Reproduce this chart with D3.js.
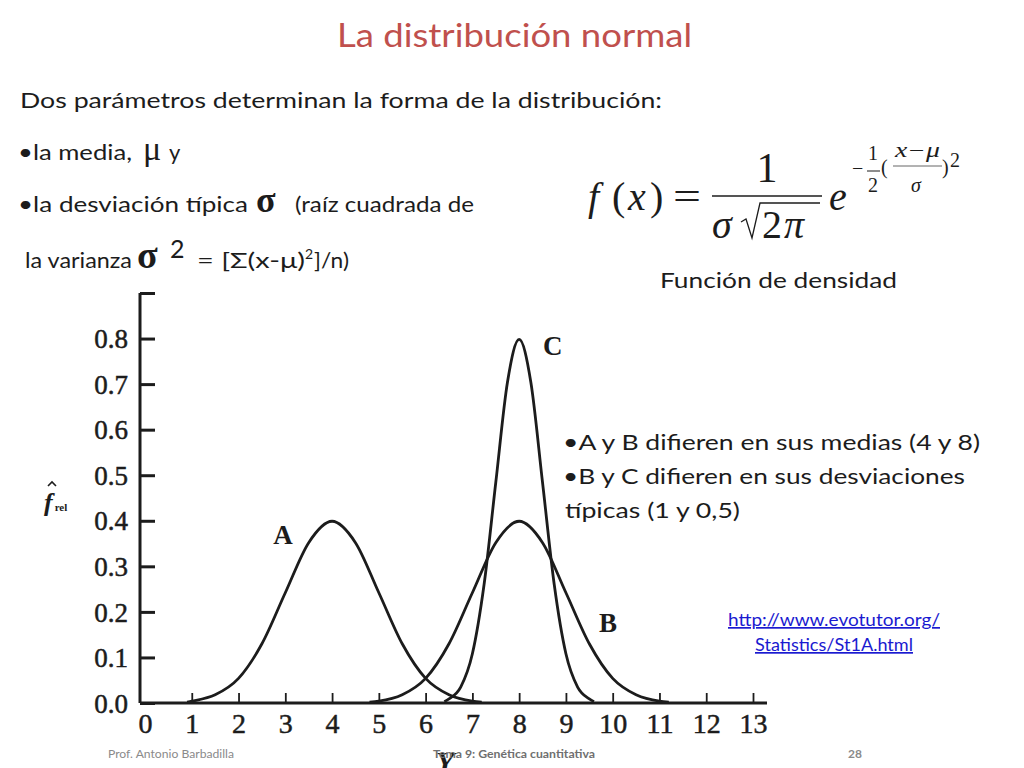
<!DOCTYPE html>
<html><head><meta charset="utf-8">
<script src="https://cdn.jsdelivr.net/npm/d3@7"></script>
<style>body{margin:0;background:#fff} svg{display:block}</style>
</head><body>
<svg id="c" width="1024" height="768"></svg>
<script>
// ---------- data ----------
const xTicks = [0,1,2,3,4,5,6,7,8,9,10,11,12,13];
const yTicks = [0,0.1,0.2,0.3,0.4,0.5,0.6,0.7,0.8,0.9];
const yTickLabels = ["0.0","0.1","0.2","0.3","0.4","0.5","0.6","0.7","0.8",""];
const curveAx = [0.9,1,1.5,2,2.5,3,3.5,4,4.5,5,5.5,6,6.5,7,7.2];
const curveAy = [0.002,0.004,0.018,0.054,0.130,0.242,0.352,0.399,0.352,0.242,0.130,0.054,0.018,0.004,0.002];
const curveBx = [4.8,5,5.5,6,6.5,7,7.5,8,8.5,9,9.5,10,10.5,11,11.2];
const curveBy = [0.002,0.004,0.018,0.054,0.130,0.242,0.352,0.399,0.352,0.242,0.130,0.054,0.018,0.004,0.002];
const curveCx = [6.4,6.5,6.75,7,7.25,7.5,7.75,8,8.25,8.5,8.75,9,9.25,9.5,9.6];
const curveCy = [0.003,0.009,0.035,0.108,0.260,0.484,0.704,0.798,0.704,0.484,0.260,0.108,0.035,0.009,0.003];
const curveNames = ["A","B","C"];
const labelX = [2.95, 9.9, 8.72];
const labelY = [0.35, 0.156, 0.764];

// ---------- setup ----------
const svg = d3.select("#c");
svg.append("rect").attr("width",1024).attr("height",768).attr("fill","#fff");
const SANS = "Lato, 'Open Sans', sans-serif";
const SERIF = "'Liberation Serif', 'DejaVu Serif', serif";
const INK = "#1c1c1c";

const x = d3.scaleLinear().domain([0,13]).range([145,753]);
const y = d3.scaleLinear().domain([0,0.9]).range([703,293]);

function t(px,py,str,o={}) {
  const e = svg.append("text").attr("x",px).attr("y",py).text(str)
    .attr("font-family",o.ff||SANS).attr("font-size",o.fs||22)
    .attr("fill",o.fill||INK);
  if (o.anchor) e.attr("text-anchor",o.anchor);
  if (o.fw) e.attr("font-weight",o.fw);
  if (o.fst) e.attr("font-style",o.fst);
  if (o.len) e.attr("textLength",o.len).attr("lengthAdjust","spacingAndGlyphs");
  if (o.deco) e.attr("text-decoration",o.deco);
  return e;
}

// ---------- title & text ----------
t(337,47,"La distribución normal",{fs:33,fill:"#c0504d",len:355});
t(20,108,"Dos parámetros determinan la forma de la distribución:",{fs:22,len:642});
t(18,160,"•la media,",{fs:22,len:114});
t(143,160,"μ",{ff:SERIF,fs:34});
t(169,160,"y",{fs:22});
t(18,212,"•la desviación típica",{fs:22,len:230});
t(256,212,"σ",{ff:SERIF,fs:36,fw:"bold"});
t(295,212,"(raíz cuadrada de",{fs:22,len:179});
t(25,268,"la varianza",{fs:22,len:107});
t(137,268,"σ",{ff:SERIF,fs:38,fw:"bold"});
t(170,258,"2",{fs:25});
t(197,268,"= [Σ(x-μ)",{fs:22,len:108});
t(305,259,"2",{fs:14});
t(314,268,"]/n)",{fs:22,len:35});

// ---------- formula ----------
t(588,210,"f",{ff:SERIF,fs:40,fst:"italic"});
t(612,210,"(",{ff:SERIF,fs:40});
t(628,210,"x",{ff:SERIF,fs:40,fst:"italic"});
t(650,210,")",{ff:SERIF,fs:40});
t(673,210,"=",{ff:SERIF,fs:40,len:28});
t(767,182,"1",{ff:SERIF,fs:42,anchor:"middle"});
svg.append("line").attr("x1",712).attr("x2",822).attr("y1",196).attr("y2",196).attr("stroke",INK).attr("stroke-width",1.5);
t(712,238,"σ",{ff:SERIF,fs:40,fst:"italic"});
svg.append("path").attr("d","M741,222 L746,219 L752,238 L760,203 L820,203").attr("fill","none").attr("stroke",INK).attr("stroke-width",1.3);
t(762,238,"2",{ff:SERIF,fs:40});
t(784,238,"π",{ff:SERIF,fs:40,fst:"italic"});
t(829,210,"e",{ff:SERIF,fs:40,fst:"italic"});
t(852,175,"−",{ff:SERIF,fs:20});
t(873,160,"1",{ff:SERIF,fs:20,anchor:"middle"});
svg.append("line").attr("x1",867).attr("x2",880).attr("y1",171).attr("y2",171).attr("stroke",INK).attr("stroke-width",1);
t(873,192,"2",{ff:SERIF,fs:20,anchor:"middle"});
t(881,174,"(",{ff:SERIF,fs:20});
t(895,157,"x−μ",{ff:SERIF,fs:20,fst:"italic",len:45});
svg.append("line").attr("x1",893).attr("x2",942).attr("y1",166).attr("y2",166).attr("stroke","#666").attr("stroke-width",1);
t(916,192,"σ",{ff:SERIF,fs:20,fst:"italic",anchor:"middle"});
t(942,174,")",{ff:SERIF,fs:20});
t(950,167,"2",{ff:SERIF,fs:20});
t(660,288,"Función de densidad",{fs:22,len:237});

// ---------- right notes ----------
t(563,450,"•A y B difieren en sus medias (4 y 8)",{fs:22,len:417});
t(563,484,"•B y C difieren en sus desviaciones",{fs:22,len:402});
t(565,518,"típicas (1 y 0,5)",{fs:22,len:175});
t(834,626,"http://www.evotutor.org/",{fs:17,fill:"#1a1ad0",anchor:"middle",deco:"underline",len:212});
t(834,651,"Statistics/St1A.html",{fs:17,fill:"#1a1ad0",anchor:"middle",deco:"underline",len:158});

// ---------- axes ----------
const gy = svg.append("g").attr("transform","translate(140,0)")
  .call(d3.axisLeft(y).tickValues(yTicks).tickSize(-15).tickPadding(12)
        .tickFormat((d,i)=>yTickLabels[i]));
gy.select(".domain").attr("d","M0,293V703").attr("stroke",INK).attr("stroke-width",3);
gy.selectAll(".tick line").attr("stroke",INK).attr("stroke-width",3);
gy.selectAll(".tick text").attr("font-family",SERIF).attr("font-size",27).attr("fill",INK)
  .attr("stroke",INK).attr("stroke-width",0.5).attr("dy","0.34em");

const gx = svg.append("g").attr("transform","translate(0,703)")
  .call(d3.axisBottom(x).tickValues(xTicks).tickSize(-10).tickPadding(10));
gx.select(".domain").attr("d","M140,0H767").attr("stroke",INK).attr("stroke-width",3);
gx.selectAll(".tick line").attr("stroke",INK).attr("stroke-width",1.8).filter(d=>d===0).remove();
gx.selectAll(".tick text").attr("font-family",SERIF).attr("font-size",28).attr("fill",INK)
  .attr("stroke",INK).attr("stroke-width",0.5);

// axis titles
const fl = svg.append("text").attr("x",44).attr("y",511).attr("font-family",SERIF).attr("fill",INK);
fl.append("tspan").text("f").attr("font-size",26).attr("font-style","italic").attr("font-weight","bold");
fl.append("tspan").text("rel").attr("font-size",11).attr("font-weight","bold").attr("dx",2);
svg.append("path").attr("d","M48,486 L52,482 L56,486").attr("fill","none").attr("stroke",INK).attr("stroke-width",1.6);
t(436,772,"Y",{ff:SERIF,fs:30,fst:"italic",fw:"bold"});

// ---------- curves ----------
const curves = [
  curveAx.map((v,i)=>[v,curveAy[i]]),
  curveBx.map((v,i)=>[v,curveBy[i]]),
  curveCx.map((v,i)=>[v,curveCy[i]])
];
const line = d3.line().x(d=>x(d[0])).y(d=>y(d[1])).curve(d3.curveMonotoneX);
svg.append("g").selectAll("path").data(curves).join("path")
  .attr("d",line).attr("fill","none").attr("stroke",INK).attr("stroke-width",2.8);

svg.append("g").selectAll("text").data(curveNames).join("text")
  .attr("x",(d,i)=>x(labelX[i])).attr("y",(d,i)=>y(labelY[i]))
  .attr("text-anchor","middle").attr("font-family",SERIF).attr("font-weight","bold")
  .attr("font-size",27).attr("fill",INK).text(d=>d);

// ---------- footer ----------
t(108,758,"Prof. Antonio Barbadilla",{fs:12,fill:"#8a8a8a",len:126});
t(433,758,"Tema 9: Genética cuantitativa",{fs:12,fill:"#6f6f6f",fw:"bold",len:162});
t(848,758,"28",{fs:12,fill:"#8a8a8a",fw:"bold"});
</script></body></html>
